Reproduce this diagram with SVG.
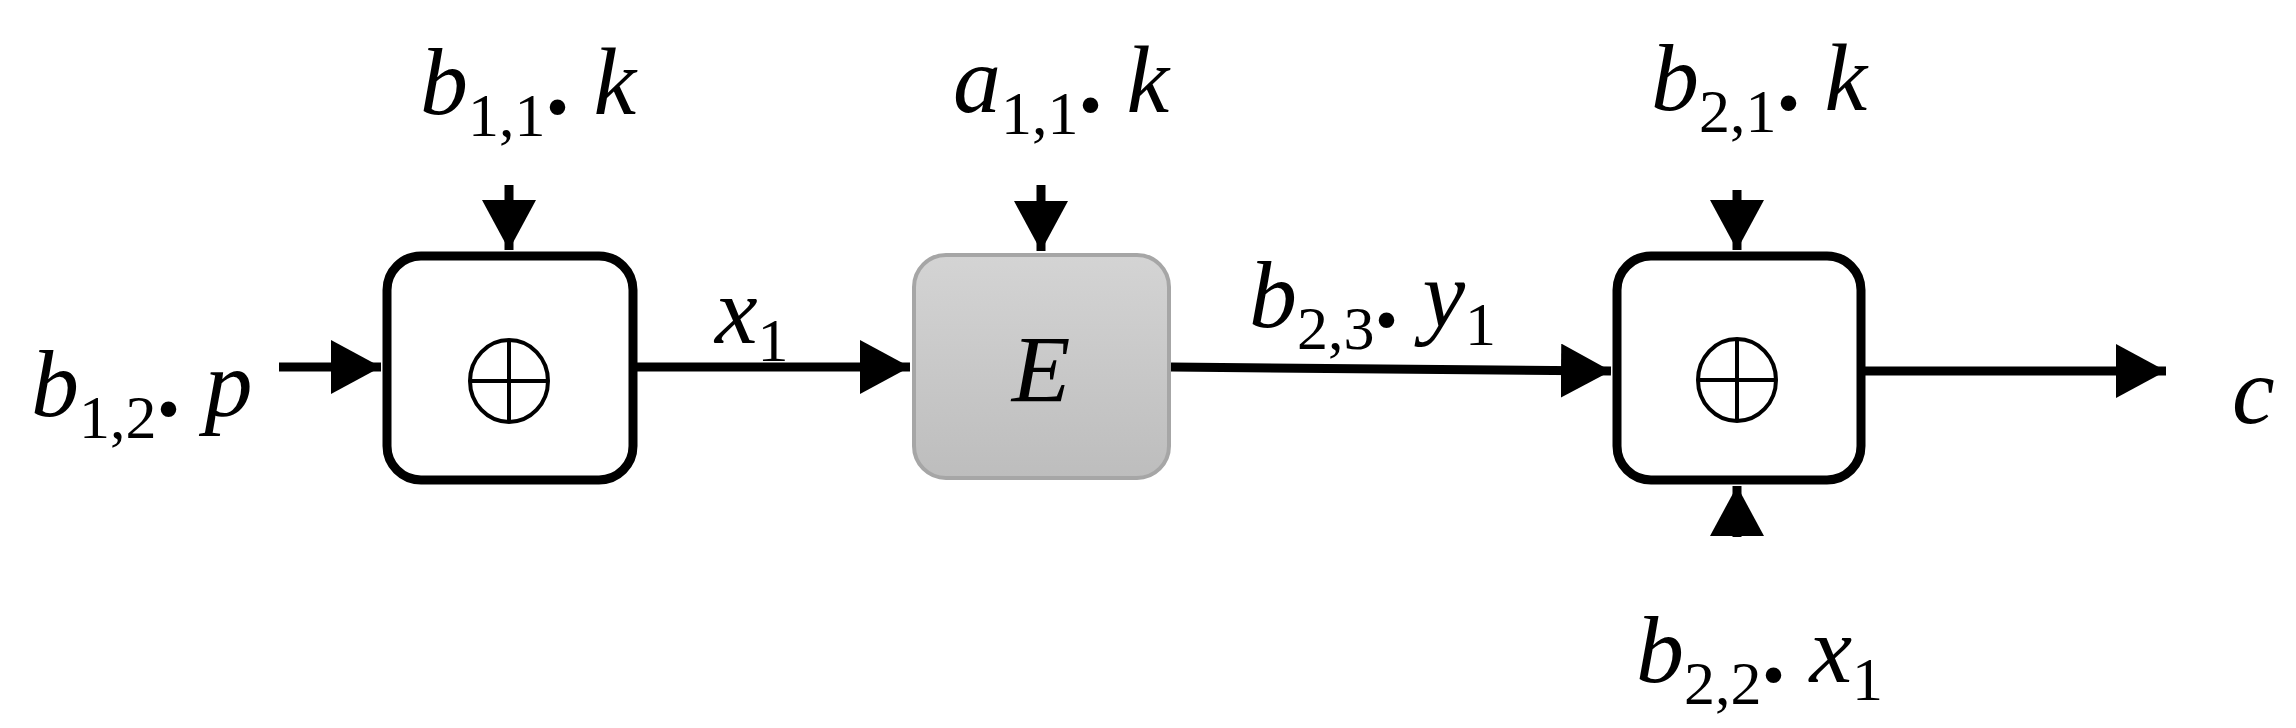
<svg xmlns="http://www.w3.org/2000/svg" width="2296" height="728" viewBox="0 0 2296 728">
<style>
.t{font-family:"Liberation Serif",serif;font-size:96px;fill:#000}
.i{font-style:italic}
.s{font-size:62px}
.ln{stroke:#000;stroke-width:9;fill:none}
.box{fill:#fff;stroke:#000;stroke-width:9}
</style>
<defs>
<marker id="ah" markerUnits="userSpaceOnUse" markerWidth="52" markerHeight="54" refX="50" refY="27" orient="auto"><path d="M0,0 L50,27 L0,54 Z" fill="#000"/></marker>
<linearGradient id="g" x1="0" y1="0" x2="0" y2="1"><stop offset="0" stop-color="#d4d4d4"/><stop offset="1" stop-color="#bdbdbd"/></linearGradient>
</defs>
<g id="connectors">
<line class="ln" x1="279" y1="367" x2="381" y2="367" marker-end="url(#ah)"/>
<line class="ln" x1="509" y1="185" x2="509" y2="250" marker-end="url(#ah)"/>
<line class="ln" x1="637" y1="367" x2="910" y2="367" marker-end="url(#ah)"/>
<line class="ln" x1="1041" y1="185" x2="1041" y2="251" marker-end="url(#ah)"/>
<line class="ln" x1="1171" y1="367" x2="1611" y2="371" marker-end="url(#ah)"/>
<line class="ln" x1="1737" y1="190" x2="1737" y2="250" marker-end="url(#ah)"/>
<line class="ln" x1="1737" y1="537" x2="1737" y2="486" marker-end="url(#ah)"/>
<line class="ln" x1="1865" y1="371" x2="2166" y2="371" marker-end="url(#ah)"/>
</g>
<g id="xor1">
<rect class="box" x="387" y="256" width="246" height="224" rx="34"/>
<ellipse cx="509" cy="381" rx="39" ry="41" fill="none" stroke="#000" stroke-width="4"/>
<path d="M470,381 H548 M509,340 V422" stroke="#000" stroke-width="4"/>
</g>
<g id="E">
<rect x="914" y="255" width="255" height="223" rx="32" fill="url(#g)" stroke="#a6a6a6" stroke-width="4"/>
<text class="t i" x="1041" y="402" text-anchor="middle">E</text>
</g>
<g id="xor2">
<rect class="box" x="1617" y="256" width="244" height="224" rx="34"/>
<ellipse cx="1737" cy="380" rx="39" ry="41" fill="none" stroke="#000" stroke-width="4"/>
<path d="M1698,380 H1776 M1737,339 V421" stroke="#000" stroke-width="4"/>
</g>
<g id="labels">
<text class="t" x="420" y="114"><tspan class="i">b</tspan><tspan class="s" dy="22">1,1</tspan><tspan font-weight="bold" dy="-22">.</tspan><tspan class="i"> k</tspan></text>
<text class="t" x="953" y="112"><tspan class="i">a</tspan><tspan class="s" dy="22">1,1</tspan><tspan font-weight="bold" dy="-22">.</tspan><tspan class="i"> k</tspan></text>
<text class="t" x="1651" y="110"><tspan class="i">b</tspan><tspan class="s" dy="22">2,1</tspan><tspan font-weight="bold" dy="-22">.</tspan><tspan class="i"> k</tspan></text>
<text class="t" x="31" y="416"><tspan class="i">b</tspan><tspan class="s" dy="22">1,2</tspan><tspan font-weight="bold" dy="-22">.</tspan><tspan class="i"> p</tspan></text>
<text class="t" x="715" y="343"><tspan class="i">x</tspan><tspan class="s" dy="18">1</tspan></text>
<text class="t" x="1249" y="327"><tspan class="i">b</tspan><tspan class="s" dy="22">2,3</tspan><tspan font-weight="bold" dy="-22">.</tspan><tspan class="i"> y</tspan><tspan class="s" dy="18">1</tspan></text>
<text class="t" x="1636" y="682"><tspan class="i">b</tspan><tspan class="s" dy="22">2,2</tspan><tspan font-weight="bold" dy="-22">.</tspan><tspan class="i"> x</tspan><tspan class="s" dy="18">1</tspan></text>
<text class="t i" x="2232" y="423">c</text>
</g>
</svg>
